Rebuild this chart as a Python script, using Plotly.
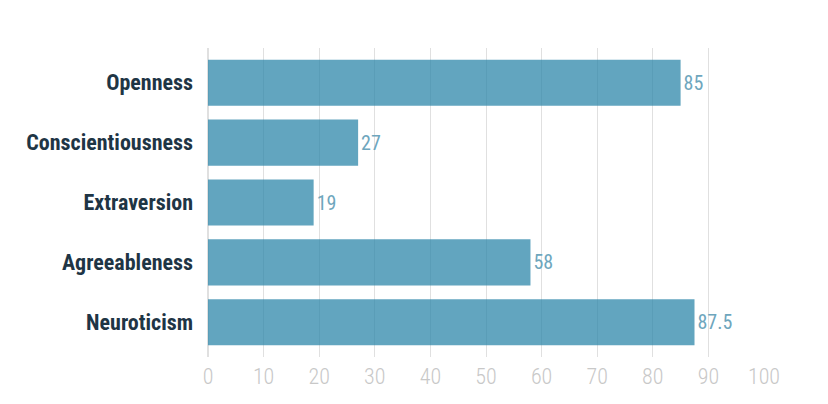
import plotly.graph_objects as go

# Big Five trait scores
traits = ['Openness', 'Conscientiousness', 'Extraversion', 'Agreeableness', 'Neuroticism']
scores = [85, 27, 19, 58, 87.5]
score_labels = ['85', '27', '19', '58', '87.5']
x_ticks = [0, 10, 20, 30, 40, 50, 60, 70, 80, 90, 100]

narrow = 'Roboto Condensed, Liberation Sans Narrow, sans-serif'

fig = go.Figure()
fig.add_trace(go.Bar(
    x=scores,
    y=traits,
    orientation='h',
    text=score_labels,
    textposition='outside',
    cliponaxis=False,
    marker=dict(color='rgb(46,135,170)', opacity=0.75, line=dict(width=0)),
    textfont=dict(family=narrow, size=20, color='#6ea6bd'),
))

# page body has an 8px margin, so the figure is 8px smaller than the window
fig.update_layout(
    width=820,
    height=396,
    margin=dict(l=200, r=64, t=40, b=47),
    plot_bgcolor='white',
    paper_bgcolor='white',
    bargap=0.23,
    showlegend=False,
    xaxis=dict(
        range=[0, 100],
        tickvals=x_ticks,
        showgrid=True,
        gridcolor='#e0e0e0',
        gridwidth=1,
        zeroline=True,
        zerolinecolor='#e0e0e0',
        showline=False,
        automargin=False,
        ticklabelstandoff=4,
        tickfont=dict(family=narrow, size=22, color='#c8c8c8', weight=300),
    ),
    yaxis=dict(
        categoryorder='array',
        categoryarray=traits,
        range=[4.58, -0.58],
        showgrid=False,
        zeroline=False,
        showline=False,
        automargin=False,
        ticklabelstandoff=14,
        tickfont=dict(family=narrow, size=22, color='#1e3545', weight='bold'),
    ),
)

fig.write_html("out.html")
